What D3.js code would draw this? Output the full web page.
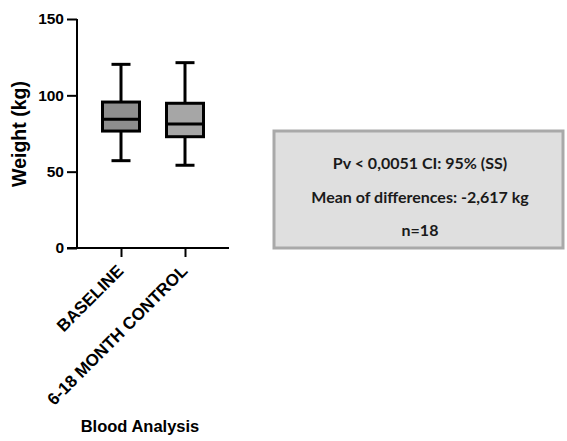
<!DOCTYPE html>
<html>
<head>
<meta charset="utf-8">
<script src="https://cdn.jsdelivr.net/npm/d3@7"></script>
<style>
  body { margin: 0; background: #fff; }
  svg { display: block; }
  .axis text { font-family: "Liberation Sans", Arial, sans-serif; font-weight: bold; fill: #000; }
  .y.axis text { font-size: 15.5px; }
  .x.axis text { font-size: 17px; }
  .axis path, .axis line { stroke: #000; stroke-width: 2px; }
</style>
</head>
<body>
<div id="plot"></div>
<script>
// groups and box statistics (kg)
const groups = ["BASELINE", "6-18 MONTH CONTROL"];
const mins = [57.2, 54.2];
const q1s = [76.6, 72.9];
const medians = [84.3, 81.2];
const q3s = [95.6, 94.8];
const maxs = [120.3, 121.4];
const fills = ["#8e8e8e", "#a6a6a6"];

const yTicks = [0, 50, 100, 150];
const noteLines = ["Pv < 0,0051 CI: 95% (SS)", "Mean of differences: -2,617 kg", "n=18"];

const width = 567, height = 441;
const margin = { left: 77, top: 19, plotRight: 229, plotBottom: 248 };

const svg = d3.select("#plot").append("svg")
    .attr("width", width)
    .attr("height", height);

// scales
const x = d3.scalePoint()
    .domain(groups)
    .range([121, 185]);

const y = d3.scaleLinear()
    .domain([0, 150])
    .range([margin.plotBottom, margin.top]);

// y axis
svg.append("g")
    .attr("class", "y axis")
    .attr("transform", `translate(${margin.left},0)`)
    .call(d3.axisLeft(y).tickValues(yTicks).tickSize(10).tickPadding(3))
    .call(g => g.select(".domain").attr("d", `M0,${y(150)}V${y(0)}`));

// x axis
const xAxis = svg.append("g")
    .attr("class", "x axis")
    .attr("transform", `translate(0,${margin.plotBottom})`)
    .call(d3.axisBottom(x).tickSize(9).tickPadding(4));
xAxis.select(".domain").attr("d", `M${margin.left - 10},0H${margin.plotRight}`);
xAxis.selectAll("text")
    .attr("text-anchor", "end")
    .attr("dy", null)
    .attr("transform", "translate(3,24) rotate(-45)")
    .attr("y", 0)
    .attr("x", 0);

// y label
svg.append("text")
    .attr("transform", `translate(26,134) rotate(-90)`)
    .attr("text-anchor", "middle")
    .attr("font-family", "Liberation Sans, Arial, sans-serif")
    .attr("font-weight", "bold")
    .attr("font-size", 19.5)
    .text("Weight (kg)");

// x label
svg.append("text")
    .attr("x", 140)
    .attr("y", 432)
    .attr("text-anchor", "middle")
    .attr("font-family", "Liberation Sans, Arial, sans-serif")
    .attr("font-weight", "bold")
    .attr("font-size", 16.5)
    .text("Blood Analysis");

// box plots
const boxW = 37, capW = 19;
const boxes = svg.append("g").selectAll("g")
    .data(groups)
    .join("g");

boxes.append("line")
    .attr("x1", d => x(d)).attr("x2", d => x(d))
    .attr("y1", (d, i) => y(maxs[i])).attr("y2", (d, i) => y(mins[i]))
    .attr("stroke", "#000").attr("stroke-width", 3);

boxes.append("line")
    .attr("x1", d => x(d) - capW / 2).attr("x2", d => x(d) + capW / 2)
    .attr("y1", (d, i) => y(maxs[i])).attr("y2", (d, i) => y(maxs[i]))
    .attr("stroke", "#000").attr("stroke-width", 3);

boxes.append("line")
    .attr("x1", d => x(d) - capW / 2).attr("x2", d => x(d) + capW / 2)
    .attr("y1", (d, i) => y(mins[i])).attr("y2", (d, i) => y(mins[i]))
    .attr("stroke", "#000").attr("stroke-width", 3);

boxes.append("rect")
    .attr("x", d => x(d) - boxW / 2)
    .attr("width", boxW)
    .attr("y", (d, i) => y(q3s[i]))
    .attr("height", (d, i) => y(q1s[i]) - y(q3s[i]))
    .attr("fill", (d, i) => fills[i])
    .attr("stroke", "#000").attr("stroke-width", 3);

boxes.append("line")
    .attr("x1", d => x(d) - boxW / 2).attr("x2", d => x(d) + boxW / 2)
    .attr("y1", (d, i) => y(medians[i])).attr("y2", (d, i) => y(medians[i]))
    .attr("stroke", "#000").attr("stroke-width", 3);

// stats note box
const note = svg.append("g");
note.append("rect")
    .attr("x", 274).attr("y", 131)
    .attr("width", 289).attr("height", 117)
    .attr("fill", "#dfdfdf")
    .attr("stroke", "#a9a9a9").attr("stroke-width", 3);

note.selectAll("text")
    .data(noteLines)
    .join("text")
    .attr("x", 420)
    .attr("y", (d, i) => 169 + i * 33.5)
    .attr("text-anchor", "middle")
    .attr("font-family", "Lato, 'Open Sans', sans-serif")
    .attr("font-weight", "bold")
    .attr("font-size", 16)
    .attr("fill", "#1a1a1a")
    .text(d => d);
</script>
</body>
</html>
